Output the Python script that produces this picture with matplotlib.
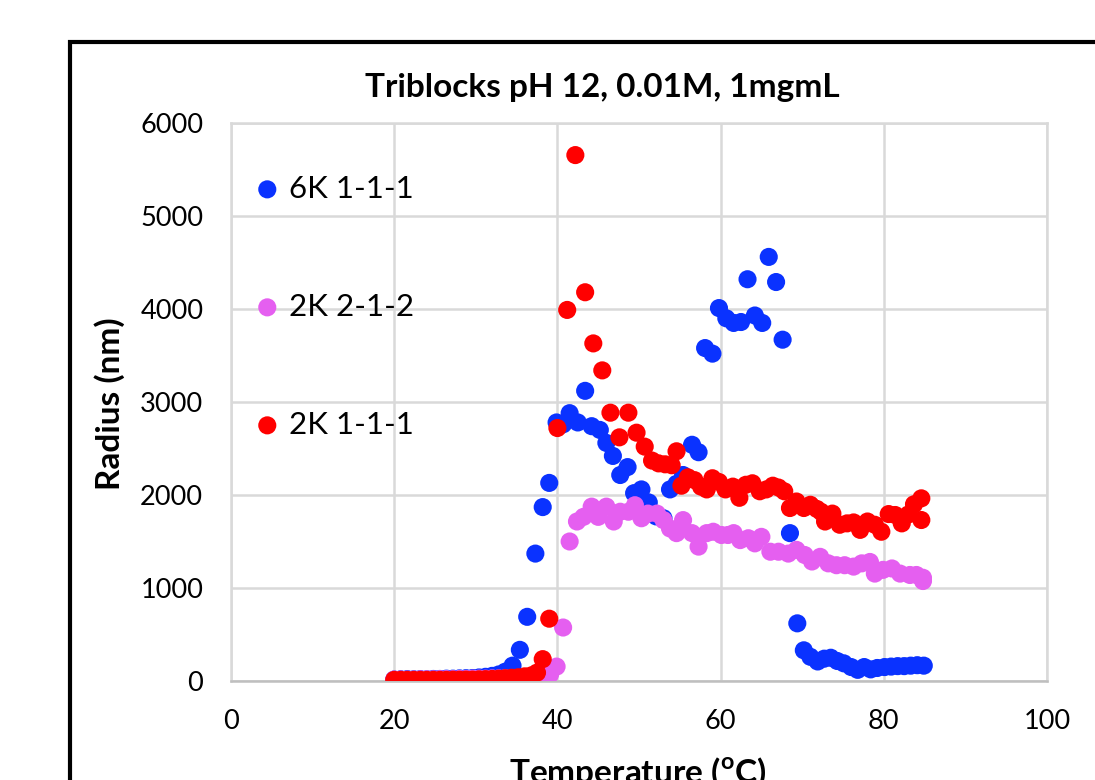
import matplotlib
matplotlib.use("Agg")
import matplotlib.pyplot as plt
from matplotlib.patches import Rectangle

# 6K 1-1-1
blue_t = [20.0, 20.8, 21.6, 22.4, 23.2, 24.0, 24.8, 25.6, 26.4, 27.2, 28.0, 28.8, 29.6, 30.4, 31.2, 32.0, 32.8, 33.6,
          34.5, 35.4, 36.3, 37.3, 38.2, 39.0, 39.9, 40.7, 41.5, 42.5,
          43.4, 44.2, 45.2, 46.0, 46.8, 47.7, 48.6, 49.4, 50.3, 51.2,
          52.1, 53.0, 53.8, 54.6, 55.4, 56.5, 57.3, 58.1, 59.0, 59.8,
          60.7, 61.6, 62.5, 63.3, 64.2, 65.1, 65.9, 66.8, 67.6, 68.5,
          69.4, 70.2, 71.0, 71.9, 72.7, 73.5, 74.3, 75.1, 76.0, 76.8,
          77.6, 78.4, 79.2, 80.1, 80.9, 81.7, 82.5, 83.3, 84.1, 84.9]
blue_r = [15, 18, 20, 18, 20, 18, 22, 22, 25, 25, 28, 30, 32, 38, 45, 55, 70, 100,
          165, 335, 690, 1370, 1870, 2130, 2780, 2760, 2880, 2780,
          3120, 2740, 2700, 2560, 2420, 2215, 2300, 2020, 2060, 1920,
          1770, 1750, 2060, 2120, 2215, 2540, 2460, 3580, 3520, 4010,
          3900, 3850, 3860, 4320, 3930, 3850, 4560, 4290, 3670, 1590,
          620, 330, 260, 210, 240, 250, 215, 190, 150, 120,
          150, 125, 140, 150, 155, 160, 160, 165, 170, 165]

# 2K 2-1-2
pink_t = [20.0, 20.8, 21.6, 22.4, 23.2, 24.0, 24.8, 25.6, 26.4, 27.2, 28.0, 28.8,
          29.6, 30.4, 31.2, 32.0, 32.8, 33.6, 34.4, 35.2, 36.0, 36.8, 37.6, 38.4,
          39.1, 39.9, 40.7, 41.5, 42.4, 43.2, 44.2, 45.0, 46.0, 46.9,
          47.7, 48.7, 49.5, 50.3, 51.1, 52.2, 53.0, 53.8, 54.6, 55.4,
          56.5, 57.3, 58.3, 59.1, 60.1, 60.9, 61.6, 62.4, 63.4, 64.2,
          65.0, 66.1, 67.1, 68.3, 69.3, 70.3, 71.2, 72.2, 73.2, 74.2,
          75.2, 76.3, 77.3, 78.3, 78.9, 79.9, 81.0, 82.0, 83.2, 84.0,
          84.8, 84.8]
pink_r = [15, 15, 15, 15, 18, 18, 18, 20, 20, 20, 22, 22,
          25, 25, 25, 28, 28, 30, 30, 32, 35, 38, 40, 45,
          70, 155, 575, 1500, 1715, 1765, 1875, 1765, 1875, 1715,
          1820, 1820, 1890, 1750, 1800, 1800, 1730, 1640, 1590, 1730,
          1590, 1445, 1590, 1605, 1570, 1570, 1590, 1515, 1535, 1480,
          1550, 1390, 1390, 1370, 1410, 1355, 1285, 1335, 1265, 1245,
          1245, 1230, 1265, 1280, 1155, 1195, 1210, 1155, 1140, 1140,
          1110, 1075]

# 2K 1-1-1
red_t = [20.0, 20.8, 21.6, 22.4, 23.2, 24.0, 24.8, 25.6, 26.4, 27.2, 28.0,
         28.8, 29.6, 30.4, 31.2, 32.0, 32.8, 33.6, 34.4, 35.2, 36.0, 36.8,
         37.5, 38.2, 39.0, 40.0, 41.2, 42.2, 43.4, 44.4, 45.5, 46.5,
         47.6, 48.7, 49.7, 50.7, 51.6, 52.4, 53.2, 54.0, 54.6, 55.2,
         56.0, 56.8, 57.6, 58.3, 59.0, 59.8, 60.6, 61.5, 62.3, 63.1,
         63.9, 64.8, 65.6, 66.4, 67.1, 67.8, 68.5, 69.3, 70.2, 71.0,
         71.8, 72.3, 72.8, 73.7, 74.6, 75.5, 76.3, 77.1, 78.0, 78.9,
         79.7, 80.6, 81.4, 82.2, 83.0, 83.7, 84.6, 84.6]
red_r = [12, 12, 12, 12, 12, 12, 12, 12, 12, 14, 14,
         15, 15, 18, 20, 22, 25, 30, 35, 40, 50, 60,
         90, 235, 670, 2720, 3990, 5655, 4180, 3630, 3340, 2885,
         2620, 2885, 2670, 2520, 2370, 2340, 2330, 2320, 2470, 2100,
         2190, 2160, 2090, 2060, 2180, 2140, 2060, 2090, 1970, 2110,
         2126, 2040, 2060, 2100, 2080, 2040, 1860, 1930, 1860, 1895,
         1850, 1820, 1715, 1800, 1680, 1695, 1705, 1625, 1715, 1680,
         1605, 1795, 1785, 1695, 1790, 1900, 1964, 1731]

series = [
    ("6K 1-1-1", blue_t, blue_r, "#0A32FF"),
    ("2K 2-1-2", pink_t, pink_r, "#E55FF0"),
    ("2K 1-1-1", red_t, red_r, "#FF0000"),
]

font = "Lato"
fig = plt.figure(figsize=(10.95, 7.8), dpi=100)
ax = fig.add_axes([231 / 1095, 99 / 780, 816 / 1095, 558 / 780])

for name, t, r, c in series:
    ax.scatter(t, r, s=170, color=c, edgecolors="none", label=name, zorder=3)

ax.set_xlim(0, 100)
ax.set_ylim(0, 6000)
ax.set_xticks(range(0, 101, 20))
ax.set_yticks(range(0, 6001, 1000))
ax.grid(True, color="#D9D9D9", linewidth=1.8)
ax.set_axisbelow(True)
for sp in ax.spines.values():
    sp.set_color("#D9D9D9")
    sp.set_linewidth(1.8)
ax.spines["bottom"].set_color("#BFBFBF")
ax.tick_params(length=0, pad=20, labelsize=19.5)
for lab in ax.get_xticklabels() + ax.get_yticklabels():
    lab.set_fontfamily(font)

leg = ax.legend(loc="upper left", bbox_to_anchor=(0.01, 0.93), frameon=False,
                prop={"family": font, "size": 22.5}, labelspacing=2.88,
                handlelength=1.0, handletextpad=0.2, borderaxespad=0)

fig.text(602 / 1095, 1 - 88 / 780, "Triblocks pH 12, 0.01M, 1mgmL", ha="center", va="center",
         fontsize=24, fontweight="bold", family=font)
fig.text(110 / 1095, 1 - 404 / 780, "Radius (nm)", ha="center", va="center", rotation=90,
         fontsize=24, fontweight="bold", family=font)
fig.text(638 / 1095, 1 - 773 / 780, r"Temperature ($^{\mathregular{o}}$C)", ha="center", va="center",
         fontsize=24, fontweight="bold", family=font)

# outer chart frame, running off the right and bottom edges
fig.add_artist(Rectangle((70 / 1095, -0.1), 1.2, 1 - 42 / 780 + 0.1, transform=fig.transFigure,
                         fill=False, edgecolor="black", linewidth=3.0))

fig.savefig("out.png", dpi=100)
